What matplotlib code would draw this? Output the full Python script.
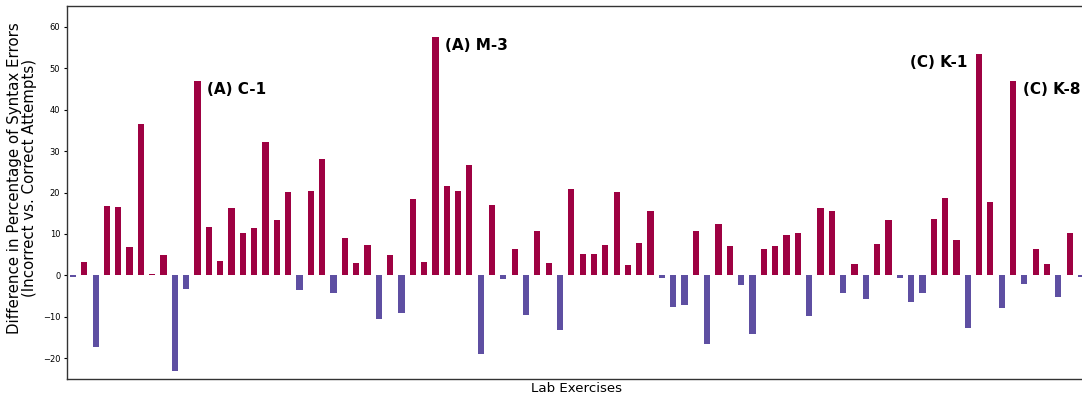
import numpy as np
import matplotlib
matplotlib.use("Agg")
import matplotlib.pyplot as plt

# difference in % of syntax errors (incorrect vs. correct), one value per lab exercise
diffs = [
    -0.4, 3.2, -17.2, 16.7, 16.5, 6.8, 36.6, 0.3, 4.9, -23.0,
    -3.2, 47.0, 11.7, 3.5, 16.3, 10.2, 11.4, 32.2, 13.4, 20.1,
    -3.5, 20.4, 28.1, -4.2, 9.0, 3.0, 7.3, -10.5, 4.9, -9.0,
    18.4, 3.2, 57.6, 21.6, 20.4, 26.7, -18.9, 17.0, -0.8, 6.4,
    -9.5, 10.7, 3.0, -13.1, 20.9, 5.1, 5.1, 7.3, 20.1, 2.5,
    7.8, 15.5, -0.6, -7.6, -7.1, 10.7, -16.5, 12.4, 7.1, -2.3,
    -14.1, 6.4, 7.1, 9.7, 10.2, -9.8, 16.3, 15.5, -4.2, 2.7,
    -5.7, 7.6, 13.4, -0.6, -6.4, -4.2, 13.6, 18.7, 8.5, -12.7,
    53.5, 17.7, -7.8, 47.0, -2.0, 6.4, 2.7, -5.2, 10.2, -0.4,
]

# labelled outliers: (bar index, label, side)
highlights = [
    (11, "(A) C-1", "right"),
    (32, "(A) M-3", "right"),
    (80, "(C) K-1", "left"),
    (83, "(C) K-8", "right"),
]

pos_color = "#9E0142"
neg_color = "#5E4FA2"

diffs = np.array(diffs)
x = np.arange(len(diffs))
colors = [pos_color if v >= 0 else neg_color for v in diffs]

fig = plt.figure(figsize=(10.82, 3.98), dpi=100)
ax = fig.add_axes([0.0622, 0.0477, 0.9421, 0.9372])

ax.bar(x, diffs, width=0.55, color=colors)

for idx, label, side in highlights:
    if side == "right":
        ax.text(idx + 0.85, diffs[idx] - 0.4, label, ha="left", va="top",
                fontsize=11, fontweight="bold")
    else:
        ax.text(idx - 1.0, diffs[idx] - 0.2, label, ha="right", va="top",
                fontsize=11, fontweight="bold")

ax.set_xlim(-0.5, 89.5)
ax.set_ylim(-25, 65)
ax.set_xticks([])
ax.set_yticks(np.arange(-20, 61, 10))
ax.tick_params(axis="y", labelsize=6, length=2.5, pad=2.5)

ax.set_xlabel("Lab Exercises", fontsize=9.6, labelpad=2)
ax.set_ylabel("Difference in Percentage of Syntax Errors\n(Incorrect vs. Correct Attempts)",
              fontsize=10.8, linespacing=1.0)
ax.yaxis.set_label_coords(-0.030, 0.539)

for s in ax.spines.values():
    s.set_color("#333333")
    s.set_linewidth(1.0)

fig.savefig("out.png", dpi=100)
